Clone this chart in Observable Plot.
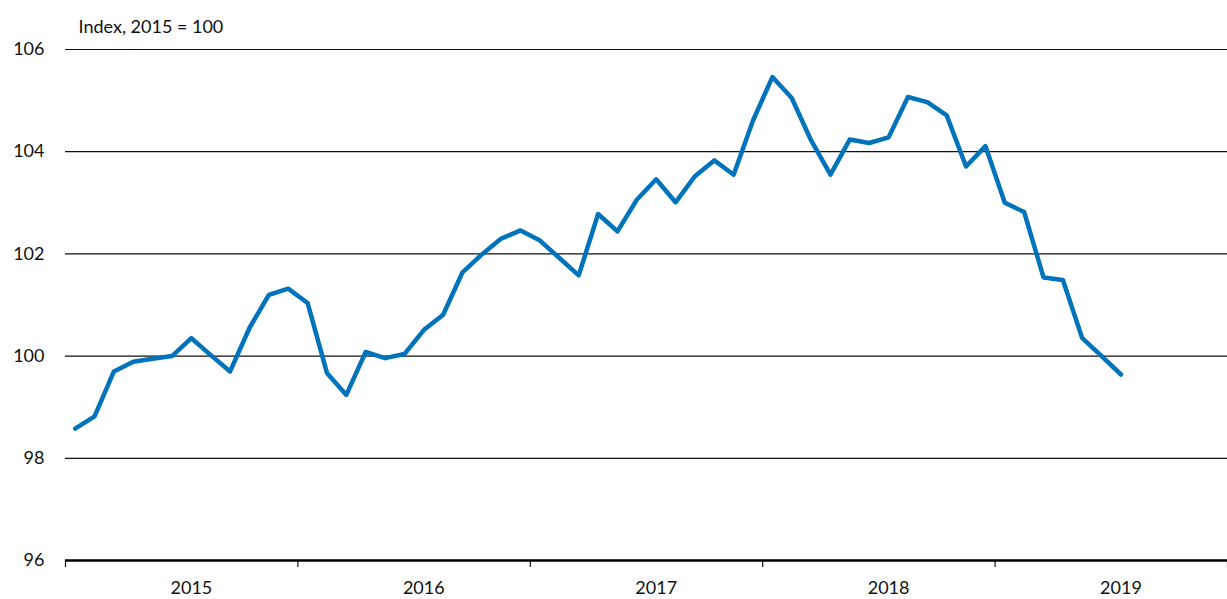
<!DOCTYPE html>
<html>
<head>
<meta charset="utf-8">
<script src="https://cdn.jsdelivr.net/npm/d3@7"></script>
<script src="https://cdn.jsdelivr.net/npm/@observablehq/plot@0.6"></script>
<style>
  body { margin: 0; background: #fff; }
  #chart svg { display: block; }
</style>
</head>
<body>
<div id="chart"></div>
<script>
// Monthly index, January 2015 – July 2019
const startYear = 2015;
const values = [
  98.58, 98.82, 99.70, 99.89, 99.95, 100.00, 100.35, 100.02, 99.70, 100.55, 101.20, 101.32,
  101.04, 99.67, 99.24, 100.08, 99.96, 100.04, 100.51, 100.81, 101.64, 101.99, 102.30, 102.46,
  102.26, 101.92, 101.58, 102.78, 102.44, 103.06, 103.46, 103.01, 103.52, 103.83, 103.55, 104.61,
  105.46, 105.05, 104.22, 103.55, 104.24, 104.17, 104.28, 105.07, 104.97, 104.71, 103.71, 104.11,
  103.00, 102.82, 101.54, 101.49, 100.35, 100.00, 99.64
];
const months = values.map((_, i) => ({ year: startYear + Math.floor(i / 12), month: (i % 12) + 1 }));
const yearBoundaries = [2015, 2016, 2017, 2018, 2019, 2020];
const yearLabels = [2015, 2016, 2017, 2018, 2019];
const yTicks = [96, 98, 100, 102, 104, 106];
const unitLabel = "Index, 2015 = 100";

// decimal-year position at the middle of each month
const data = values.map((v, i) => ({ t: months[i].year + (months[i].month - 0.5) / 12, v }));

const chart = Plot.plot({
  width: 1227,
  height: 599,
  marginLeft: 65,
  marginRight: 0,
  marginTop: 49,
  marginBottom: 39,
  x: { domain: [2015, 2020], axis: null },
  y: { domain: [96, 106], axis: null },
  style: { fontFamily: "Lato, 'Noto Sans', sans-serif", fontSize: "18px", color: "#111", background: "#fff" },
  marks: [
    Plot.ruleY(yTicks.filter(d => d > 96), { stroke: "#111", strokeWidth: 1.2 }),
    Plot.axisY({ ticks: yTicks, tickSize: 0, tickPadding: 21, tickFormat: d => String(d), fontSize: 18, label: null }),
    Plot.axisX({ ticks: yearBoundaries, tickSize: 7, tickFormat: () => "", strokeWidth: 1.2, label: null }),
    Plot.axisX({ ticks: yearLabels.map(y => y + 6.5 / 12), tickSize: 0, tickPadding: 21, tickFormat: d => String(Math.floor(d)), fontSize: 18, label: null }),
    Plot.ruleY([96], { stroke: "#000", strokeWidth: 2.5 }),
    Plot.line(data, { x: "t", y: "v", stroke: "#0073bb", strokeWidth: 4.5 }),
    Plot.text([unitLabel], { text: d => d, frameAnchor: "top-left", textAnchor: "start", lineAnchor: "bottom", dx: 13, dy: -17, fontSize: 18, fill: "#111" })
  ]
});
document.getElementById("chart").append(chart);
</script>
</body>
</html>
